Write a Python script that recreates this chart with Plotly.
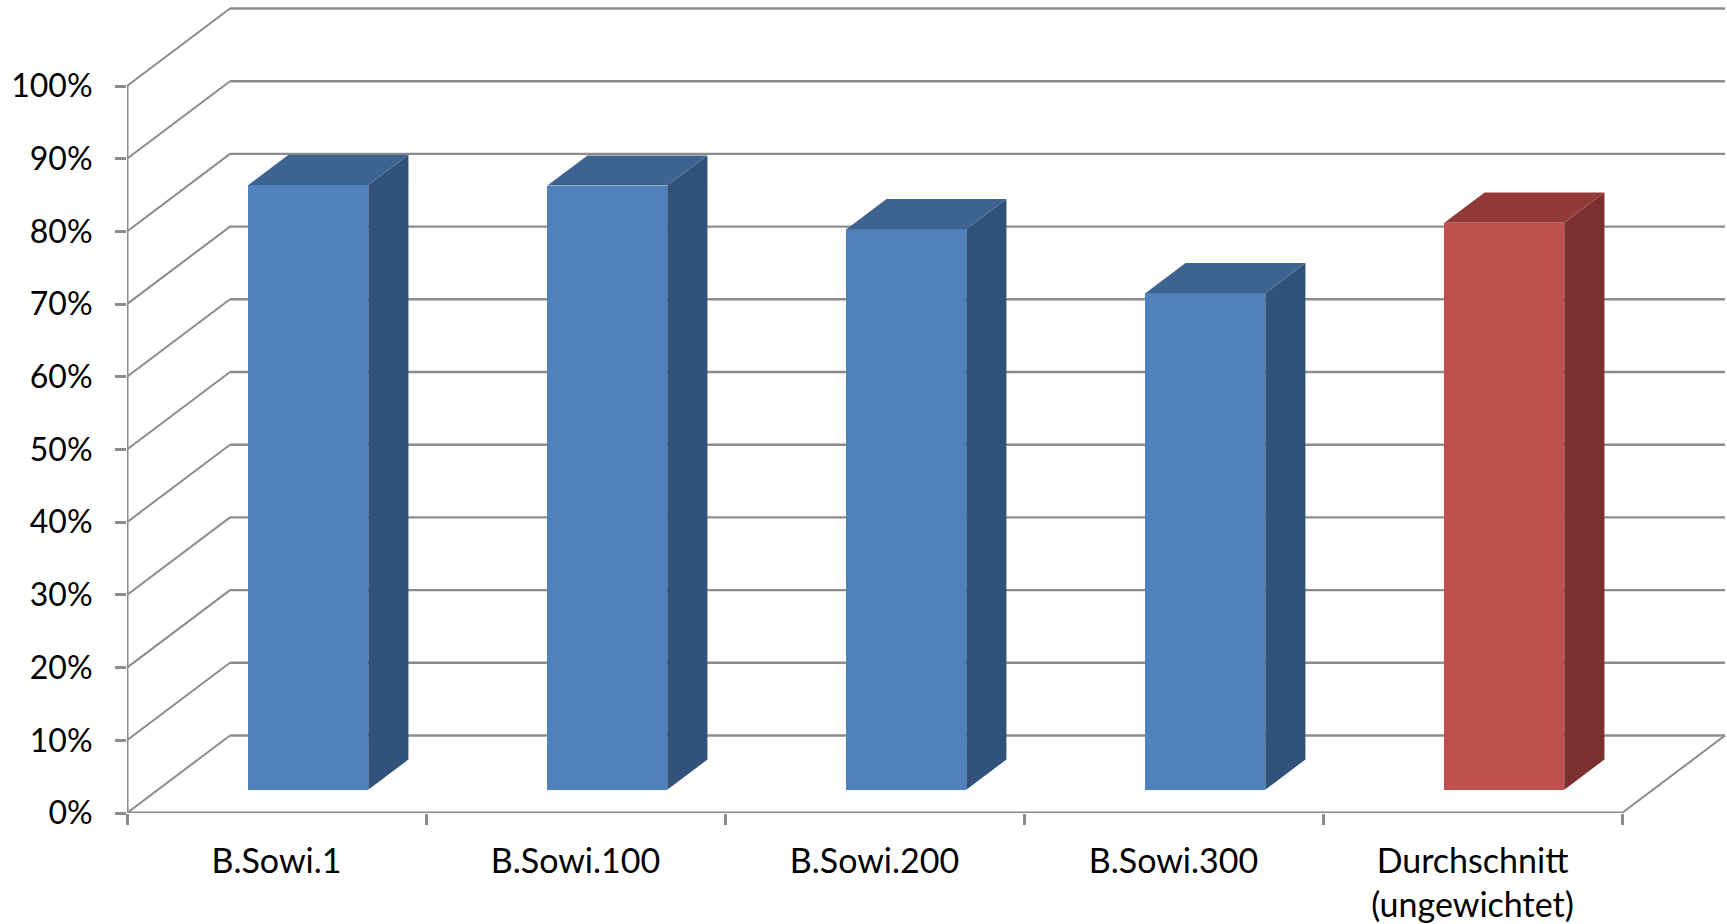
import plotly.graph_objects as go

categories = ["B.Sowi.1", "B.Sowi.100", "B.Sowi.200", "B.Sowi.300", "Durchschnitt<br>(ungewichtet)"]
values = [83.2, 83.1, 77.1, 68.3, 78.0]
front_colors = ["#4F81BD", "#4F81BD", "#4F81BD", "#4F81BD", "#C0504D"]
side_colors = ["#31527A", "#31527A", "#31527A", "#31527A", "#7B302F"]
top_colors = ["#3D6390", "#3D6390", "#3D6390", "#3D6390", "#913A38"]
y_ticks = [0, 10, 20, 30, 40, 50, 60, 70, 80, 90, 100]

GRID = "#8C8C8C"
DX, DY = 0.3445, 10.66        # oblique depth offset in axis units
GAP, DEPTH, WIDTH = 0.3, 0.39, 0.401
SHIFT = 0.003


def proj(x, y, z):
    return x + z * DX, y + z * DY


n = len(categories)
shapes = []


def line(p0, p1, w=2):
    shapes.append(dict(type="line", xref="x", yref="y", layer="below",
                       x0=p0[0], y0=p0[1], x1=p1[0], y1=p1[1],
                       line=dict(color=GRID, width=w)))


for v in y_ticks:
    line(proj(0, v, 0), proj(0, v, 1))
    line(proj(0, v, 1), proj(n, v, 1), 2.4)
line(proj(n, 0, 0), proj(n, 0, 1))
line((0, 0), (n, 0), 3)
line((0, 0), (0, 100), 3)

fig = go.Figure()

centers = [i + 0.5 + SHIFT + GAP * DX for i in range(n)]
base = GAP * DY
fig.add_trace(go.Bar(x=centers, y=values, base=base, width=WIDTH,
                     marker=dict(color=front_colors, line=dict(width=0)),
                     hoverinfo="skip"))

for i, v in enumerate(values):
    xl = i + 0.5 + SHIFT - WIDTH / 2
    xr = i + 0.5 + SHIFT + WIDTH / 2
    pts = [proj(xr, v, GAP), proj(xr, 0, GAP), proj(xr, 0, GAP + DEPTH), proj(xr, v, GAP + DEPTH)]
    fig.add_trace(go.Scatter(x=[p[0] for p in pts] + [pts[0][0]],
                             y=[p[1] for p in pts] + [pts[0][1]],
                             mode="lines", fill="toself", fillcolor=side_colors[i],
                             line=dict(width=0), hoverinfo="skip"))
    pts = [proj(xl, v, GAP), proj(xr, v, GAP), proj(xr, v, GAP + DEPTH), proj(xl, v, GAP + DEPTH)]
    fig.add_trace(go.Scatter(x=[p[0] for p in pts] + [pts[0][0]],
                             y=[p[1] for p in pts] + [pts[0][1]],
                             mode="lines", fill="toself", fillcolor=top_colors[i],
                             line=dict(width=0), hoverinfo="skip"))

fig.update_layout(
    width=1727, height=924, autosize=False,
    margin=dict(l=127, r=0, t=0, b=111, pad=0),
    paper_bgcolor="white", plot_bgcolor="white",
    showlegend=False, bargap=0,
    font=dict(family="Lato, Carlito, sans-serif", color="black", size=32),
    shapes=shapes,
    xaxis=dict(range=[0, 1600 / 299], showgrid=False, zeroline=False, showline=False,
               tickmode="array", tickvals=[i + 0.5 for i in range(n)], ticktext=categories,
               tickfont=dict(size=34),
               ticks="", ticklen=0, ticklabelstandoff=25, tickangle=0,
               minor=dict(tickmode="array", tickvals=list(range(n + 1)), ticks="outside",
                          ticklen=11, tickwidth=2.5, tickcolor=GRID, showgrid=False)),
    yaxis=dict(range=[0, 813 / 7.27], showgrid=False, zeroline=False, showline=False,
               tickmode="array", tickvals=y_ticks, ticktext=[f"{t}%" for t in y_ticks],
               ticks="outside", ticklen=11, tickwidth=2.5, tickcolor=GRID,
               ticklabelstandoff=16),
)

fig.write_html("out.html", post_script="document.body.style.margin='0';",
               config=dict(displayModeBar=False))
